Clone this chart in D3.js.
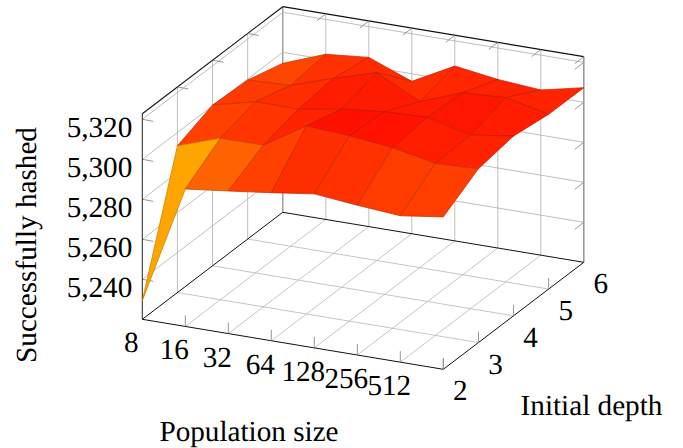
<!DOCTYPE html>
<html><head><meta charset="utf-8">
<script src="https://cdn.jsdelivr.net/npm/d3@7/dist/d3.min.js"></script>
<style>html,body{margin:0;padding:0;background:#fff}svg{display:block}text{font-family:"Liberation Serif",serif;fill:#000;text-rendering:geometricPrecision}</style>
</head><body><svg id="c" width="683" height="448"></svg>
<script>
const populationSizes=[8,16,32,64,128,256,512,1024];
const populationLabels=["8","16","32","64","128","256","512"];
const depths=[2,3,4,5,6];
const zTicks=[5240,5260,5280,5300,5320];
const hashedDepth2=[5229.3,5288.7,5291.3,5294,5297,5294.9,5293.2,5296.2];
const hashedDepth3=[5293.4,5300.7,5300.8,5314,5312.6,5310.3,5306,5306.9];
const hashedDepth4=[5300.4,5305.6,5305.4,5309,5311.3,5312.1,5306.8,5309.9];
const hashedDepth5=[5299.5,5300.4,5307.5,5313.9,5303,5311,5312.1,5307.4];
const hashedDepth6=[5294.5,5302.6,5304.6,5296.2,5307.4,5304.3,5302.6,5307.3];
const hashed=[hashedDepth2,hashedDepth3,hashedDepth4,hashedDepth5,hashedDepth6];
const xLabel="Population size",yLabel="Initial depth",zLabel="Successfully hashed";

const svg=d3.select("#c");
const zMin=5220,zMax=5322.8;
const ix=d3.scaleLinear().domain([0,populationSizes.length-1]);
const jx=d3.scaleLinear().domain([depths[0],depths[depths.length-1]]);
const xToSx=ix.copy().range([0,301]),xToSy=ix.copy().range([0,50]);
const yToSx=jx.copy().range([0,140.5]),yToSy=jx.copy().range([0,-107]);
const zToSy=d3.scaleLinear().domain([zMin,zMax]).range([0,-205.6]);
const ox=142.3,oy=319.3;
function P(i,d,z){return [ox+xToSx(i)+yToSx(d),oy+xToSy(i)+yToSy(d)+zToSy(z)];}
const line=(a,b,stroke,w,g)=>(g||svg).append("line").attr("x1",a[0]).attr("y1",a[1]).attr("x2",b[0]).attr("y2",b[1]).attr("stroke",stroke).attr("stroke-width",w);
const dFront=depths[0],dBack=depths[depths.length-1],iEnd=populationSizes.length-1;
const GRID="#b8b8b8",TICK="#8c8c8c";
populationSizes.forEach((_,i)=>{
  if(i>0&&i<iEnd)line(P(i,dFront,zMin),P(i,dBack,zMin),GRID,.8);
  if(i>0)line(P(i,dBack,zMin),P(i,dBack,zMax),i==iEnd?"#9a9a9a":GRID,i==iEnd?1.6:.9);
});
depths.forEach(d=>{
  if(d>dFront&&d<dBack)line(P(0,d,zMin),P(iEnd,d,zMin),GRID,.8);
  if(d>dFront)line(P(0,d,zMin),P(0,d,zMax),d==dBack?"#8a8a8a":GRID,d==dBack?1.2:.9);
});
zTicks.forEach(z=>{
  line(P(0,dFront,z),P(0,dBack,z),GRID,.9);
  line(P(0,dBack,z),P(iEnd,dBack,z),GRID,.9);
  let a=P(0,dFront,z);line(a,[a[0]+11,a[1]+2],TICK,.9);
  a=P(iEnd,dBack,z);line(a,[a[0]-9,a[1]+7],TICK,.9);
});
const K="#111";
line(P(0,dFront,zMin),P(0,dBack,zMin),K,1);
line(P(0,dBack,zMin),P(iEnd,dBack,zMin),K,1);
line(P(0,dFront,zMin),P(iEnd,dFront,zMin),K,1);
line(P(iEnd,dFront,zMin),P(iEnd,dBack,zMin),K,1);
line(P(0,dFront,zMin),P(0,dFront,zMax),"#222",1);
line(P(0,dFront,zMax),P(0,dBack,zMax),K,1.1);
line(P(0,dBack,zMax),P(iEnd,dBack,zMax),K,1.2);
populationSizes.forEach((_,i)=>{
  if(i>0){let a=P(i,dFront,zMin);line(a,[a[0],a[1]-11],TICK,.9);
  a=P(i,dBack,zMax);line(a,[a[0]-9,a[1]+7],TICK,.9);}
});
depths.forEach(d=>{
  let a=P(iEnd,d,zMin);if(d<dBack)line(a,[a[0],a[1]-11],TICK,.9);
  if(d>dFront&&d<dBack){a=P(0,d,zMax);line(a,[a[0]+11,a[1]+2],TICK,.9);}
});
const color=d3.scaleLinear().domain([5278,5295.4,5300,5312,5315]).range(["#ffa500","#ff6200","#ff4000","#ff1000","#ff0800"]).clamp(true);
const surf=svg.append("g");
for(let j=depths.length-2;j>=0;j--){
  for(let i=0;i<iEnd;i++){
    const q=[[i,j],[i+1,j],[i+1,j+1],[i,j+1]];
    const pts=q.map(([a,b])=>P(a,depths[b],hashed[b][a]));
    const c=color(d3.mean(q,([a,b])=>hashed[b][a]));
    surf.append("path").attr("d",d3.line()(pts)+"Z").attr("fill",c)
      .attr("stroke",d3.color(c).darker(.7)).attr("stroke-width",.75).attr("stroke-linejoin","round");
  }
}
const FS=29.2;
populationLabels.forEach((t,i)=>{
  const a=P(i,dFront,zMin);
  svg.append("text").attr("x",a[0]-11).attr("y",a[1]+33).attr("text-anchor","middle").attr("font-size",FS).text(t);
});
depths.forEach(d=>{
  const a=P(iEnd,d,zMin);
  svg.append("text").attr("x",a[0]+17).attr("y",a[1]+31).attr("text-anchor","middle").attr("font-size",FS).text(d);
});
zTicks.forEach(z=>{
  const a=P(0,dFront,z);
  svg.append("text").attr("x",a[0]-10).attr("y",a[1]+17.5).attr("text-anchor","end").attr("font-size",FS).text(d3.format(",")(z));
});
svg.append("text").attr("x",249).attr("y",441).attr("text-anchor","middle").attr("font-size",FS).text(xLabel);
svg.append("text").attr("x",591.5).attr("y",415).attr("text-anchor","middle").attr("font-size",FS).text(yLabel);
svg.append("text").attr("transform","translate(36,245) rotate(-90)").attr("text-anchor","middle").attr("font-size",FS).text(zLabel);
</script></body></html>
